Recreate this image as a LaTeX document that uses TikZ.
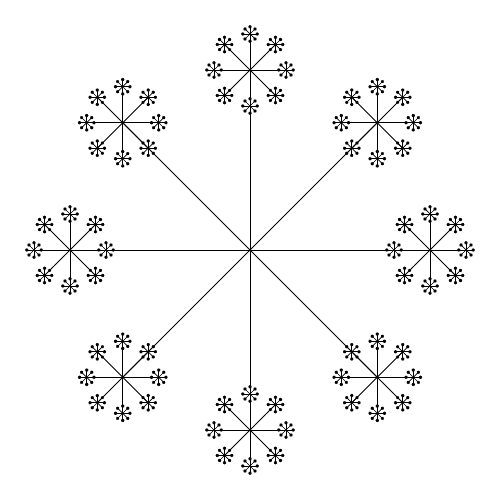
\documentclass[tikz,border=0pt]{standalone}
\begin{document}
\begin{tikzpicture}[x=1pt,y=1pt,line width=0.8pt,
  armone/.style={line width=0.8pt},
  armtwo/.style={line width=0.8pt},
  armthree/.style={line width=0.7pt},
  armfour/.style={line width=0.7pt}]
\useasboundingbox (-250,-250) rectangle (250,250);
\foreach \a in {0,45,...,315}{
  \draw[armone] (0,0) -- (\a:180);
  \begin{scope}[shift={(\a:180)}]
    \foreach \b in {0,45,...,315}{
      \draw[armtwo] (0,0) -- (\b:36);
      \begin{scope}[shift={(\b:36)}]
        \foreach \c in {0,45,...,315}{
          \draw[armthree] (0,0) -- (\c:7.2);
          \begin{scope}[shift={(\c:7.2)}]
            \draw[armfour] \foreach \d in {0,45,...,315}{(0,0) -- (\d:1.6)};
          \end{scope}
        }
      \end{scope}
    }
  \end{scope}
}
\end{tikzpicture}
\end{document}
